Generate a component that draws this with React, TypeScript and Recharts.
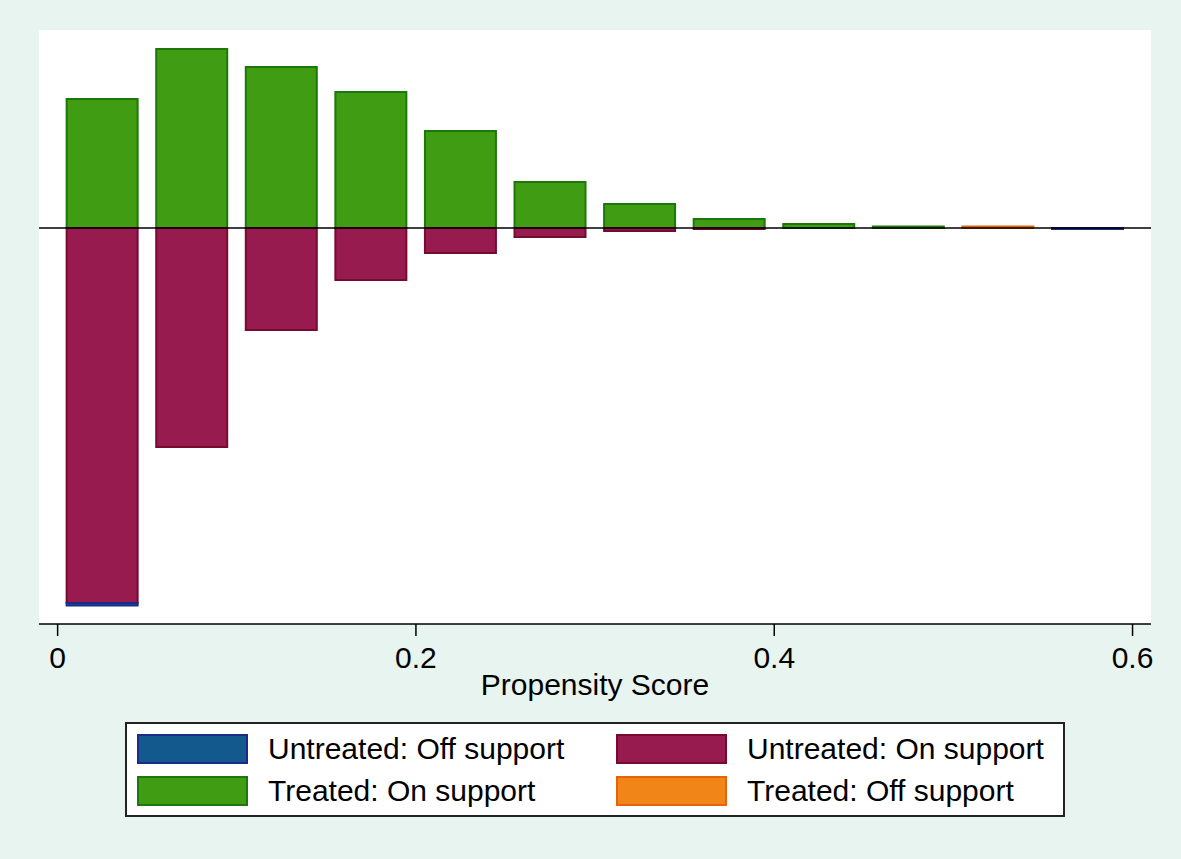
import React from 'react';
import { BarChart, Bar, XAxis, YAxis, ReferenceLine, CartesianGrid, Legend } from 'recharts';

// Bin midpoints of propensity score (bin width 0.05)
const bins = [0.025, 0.075, 0.125, 0.175, 0.225, 0.275, 0.325, 0.375, 0.425, 0.475, 0.525, 0.575];
// Densities (arbitrary units, treated drawn upward, untreated downward)
const treatedOn = [1.29, 1.79, 1.61, 1.36, 0.97, 0.46, 0.24, 0.09, 0.04, 0.015, 0, 0];
const treatedOff = [0, 0, 0, 0, 0, 0, 0, 0, 0, 0, 0.015, 0];
const untreatedOn = [-3.75, -2.19, -1.02, -0.52, -0.25, -0.09, -0.03, -0.01, 0, 0, 0, 0];
const untreatedOff = [-0.025, 0, 0, 0, 0, 0, 0, 0, 0, 0, 0, -0.01];
const xTicks = [0, 0.2, 0.4, 0.6];

const COLORS = {
  untreatedOff: { fill: '#13598E', stroke: '#1B2C88' },
  untreatedOn: { fill: '#981B50', stroke: '#780A30' },
  treatedOn: { fill: '#409C12', stroke: '#1C780A' },
  treatedOff: { fill: '#F28518', stroke: '#E5630D' },
};

const legendItems = [
  { key: 'untreatedOff', label: 'Untreated: Off support' },
  { key: 'untreatedOn', label: 'Untreated: On support' },
  { key: 'treatedOn', label: 'Treated: On support' },
  { key: 'treatedOff', label: 'Treated: Off support' },
];

const data = bins.map((x, i) => ({
  x,
  treatedOn: treatedOn[i],
  treatedOff: treatedOff[i],
  untreatedOn: untreatedOn[i],
  untreatedOff: untreatedOff[i],
}));

const FONT = '"Liberation Sans", Arial, Helvetica, sans-serif';
const FS = 30;

const renderLegend = () => (
  <div
    style={{
      position: 'relative',
      width: 940,
      height: 95,
      boxSizing: 'border-box',
      border: '2px solid #222',
      background: '#fff',
      fontFamily: FONT,
    }}
  >
    {legendItems.map((it, i) => {
      const col = i % 2;
      const row = Math.floor(i / 2);
      const c = (COLORS as any)[it.key];
      return (
        <div
          key={it.key}
          style={{
            position: 'absolute',
            left: col === 0 ? 10 : 489,
            top: row === 0 ? 10 : 52,
            height: 30,
            display: 'flex',
            alignItems: 'center',
          }}
        >
          <div
            style={{
              width: 111,
              height: 30,
              boxSizing: 'border-box',
              background: c.fill,
              border: `2px solid ${c.stroke}`,
            }}
          />
          <span style={{ marginLeft: 20, fontSize: FS, color: '#000', whiteSpace: 'nowrap', lineHeight: '30px' }}>
            {it.label}
          </span>
        </div>
      );
    })}
  </div>
);

export default function App() {
  return (
    <div
      style={{
        position: 'absolute',
        left: 0,
        top: 0,
        width: 1181,
        height: 859,
        background: '#E8F4EF',
      }}
    >
      <BarChart
        width={1181}
        height={859}
        data={data}
        stackOffset="sign"
        margin={{ top: 30, right: 30, bottom: 164, left: 39 }}
      >
        <CartesianGrid fill="#ffffff" stroke="none" horizontal={false} vertical={false} />
        <XAxis
          dataKey="x"
          type="number"
          domain={[-0.0104, 0.6103]}
          allowDataOverflow
          ticks={xTicks}
          tickSize={12}
          tickMargin={11}
          height={71}
          axisLine={{ stroke: '#000', strokeWidth: 1.5 }}
          tickLine={{ stroke: '#000', strokeWidth: 1.5 }}
          tick={{ fill: '#000', fontSize: FS, fontFamily: FONT }}
          label={{
            value: 'Propensity Score',
            position: 'insideBottom',
            offset: 0,
            fill: '#000',
            fontSize: FS,
            fontFamily: FONT,
          }}
        />
        <YAxis
          type="number"
          domain={[-3.96, 1.98]}
          allowDataOverflow
          width={0}
          tick={false}
          tickLine={false}
          axisLine={{ stroke: '#000', strokeWidth: 1.5 }}
        />
        <ReferenceLine y={0} stroke="#000" strokeWidth={1.5} />
        <Bar dataKey="treatedOn" stackId="s" barSize={71} fill={COLORS.treatedOn.fill} stroke={COLORS.treatedOn.stroke} strokeWidth={2} isAnimationActive={false} />
        <Bar dataKey="treatedOff" stackId="s" barSize={71} fill={COLORS.treatedOff.fill} stroke={COLORS.treatedOff.stroke} strokeWidth={2} isAnimationActive={false} />
        <Bar dataKey="untreatedOn" stackId="s" barSize={71} fill={COLORS.untreatedOn.fill} stroke={COLORS.untreatedOn.stroke} strokeWidth={2} isAnimationActive={false} />
        <Bar dataKey="untreatedOff" stackId="s" barSize={71} fill={COLORS.untreatedOff.fill} stroke={COLORS.untreatedOff.stroke} strokeWidth={2} isAnimationActive={false} />
        <Legend
          verticalAlign="middle"
          align="center"
          layout="horizontal"
          content={renderLegend}
          wrapperStyle={{ position: 'absolute', left: 125, top: 722, width: 940, height: 95 }}
        />
      </BarChart>
    </div>
  );
}
